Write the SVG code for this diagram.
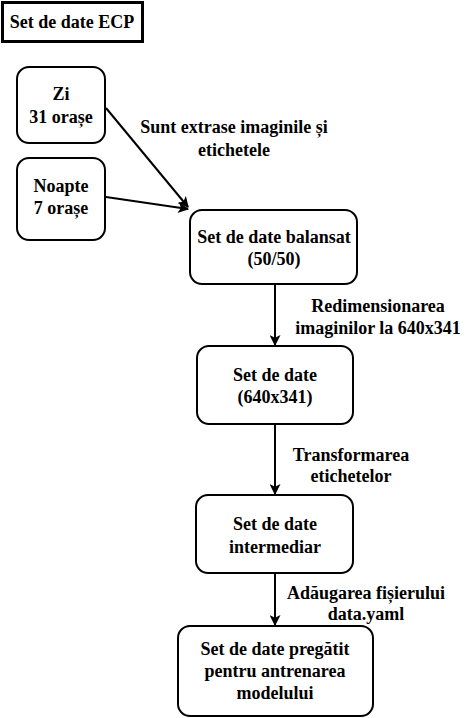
<svg xmlns="http://www.w3.org/2000/svg" width="470" height="718" viewBox="0 0 470 718">
<style>
text{font-family:'Liberation Serif','DejaVu Serif',serif;font-weight:bold;font-size:18px;fill:#000;text-anchor:middle}
.box{fill:#fff;stroke:#000;stroke-width:2}
.edge{fill:none;stroke:#000;stroke-width:2}
</style>
<defs>
<marker id="ah" viewBox="0 0 10 10" refX="9" refY="5" markerWidth="11" markerHeight="11" markerUnits="userSpaceOnUse" orient="auto">
<path d="M0,0 L10,5 L0,10 L2.5,5 Z" fill="#000"/>
</marker>
</defs>
<rect width="470" height="718" fill="#fff"/>
<g id="title">
<rect x="2.5" y="2.5" width="140" height="39" fill="#fff" stroke="#000" stroke-width="3"/>
<text x="72" y="28">Set de date ECP</text>
</g>
<g id="connectors">
<path class="edge" d="M106,108 L188,207" marker-end="url(#ah)"/>
<path class="edge" d="M106,197 L188,209" marker-end="url(#ah)"/>
<path class="edge" d="M275,284 L275,345" marker-end="url(#ah)"/>
<path class="edge" d="M275,424 L275,494" marker-end="url(#ah)"/>
<path class="edge" d="M275,573 L275,625" marker-end="url(#ah)"/>
<text x="234" y="133">Sunt extrase imaginile și</text>
<text x="234" y="156">etichetele</text>
<text x="378" y="312">Redimensionarea</text>
<text x="378" y="334">imaginilor la 640x341</text>
<text x="351" y="461">Transformarea</text>
<text x="351" y="482">etichetelor</text>
<text x="366" y="599">Adăugarea fișierului</text>
<text x="366" y="620">data.yaml</text>
</g>
<g id="zi">
<rect class="box" x="17" y="67" width="88" height="76" rx="12"/>
<text x="61" y="100">Zi</text>
<text x="61" y="123">31 orașe</text>
</g>
<g id="noapte">
<rect class="box" x="17" y="158" width="88" height="82" rx="12"/>
<text x="61" y="192">Noapte</text>
<text x="61" y="214">7 orașe</text>
</g>
<g id="balansat">
<rect class="box" x="190" y="210" width="167" height="74" rx="12"/>
<text x="274" y="243">Set de date balansat</text>
<text x="274" y="265">(50/50)</text>
</g>
<g id="dataset640">
<rect class="box" x="197" y="346" width="156" height="78" rx="12"/>
<text x="275" y="381">Set de date</text>
<text x="275" y="403">(640x341)</text>
</g>
<g id="intermediar">
<rect class="box" x="196" y="495" width="157" height="78" rx="12"/>
<text x="275" y="530">Set de date</text>
<text x="275" y="553">intermediar</text>
</g>
<g id="final">
<rect class="box" x="178" y="626" width="195" height="90" rx="12"/>
<text x="275" y="655">Set de date pregătit</text>
<text x="275" y="677">pentru antrenarea</text>
<text x="275" y="699">modelului</text>
</g>
</svg>
